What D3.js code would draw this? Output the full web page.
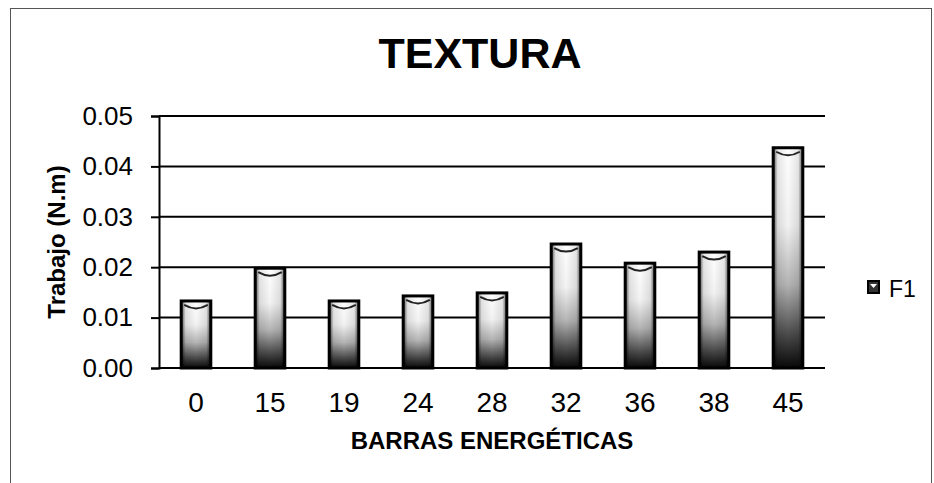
<!DOCTYPE html>
<html>
<head>
<meta charset="utf-8">
<script src="https://cdn.jsdelivr.net/npm/d3@7"></script>
<style>
  body { margin: 0; background: #fff; }
  text { font-family: "Liberation Sans", Arial, sans-serif; fill: #000; }
</style>
</head>
<body>
<div id="chart"></div>
<script>
// data
var categories = ["0", "15", "19", "24", "28", "32", "36", "38", "45"];
var f1Values = [0.0133, 0.0198, 0.0133, 0.0143, 0.0149, 0.0246, 0.0208, 0.0230, 0.0437];
var yTicks = [0, 0.01, 0.02, 0.03, 0.04, 0.05];
var seriesName = "F1";

var W = 934, H = 483;
var plot = {left: 159, right: 825, top: 116, bottom: 368};

var svg = d3.select("#chart")
    .append("svg")
    .attr("width", W)
    .attr("height", H);

// gradients for the cylinder look
var defs = svg.append("defs");
var vg = defs.append("linearGradient")
    .attr("id", "barV")
    .attr("x1", 0).attr("y1", 0).attr("x2", 0).attr("y2", 1);
vg.append("stop").attr("offset", "0%").attr("stop-color", "#ffffff");
vg.append("stop").attr("offset", "35%").attr("stop-color", "#f2f2f2");
vg.append("stop").attr("offset", "62%").attr("stop-color", "#b4b4b4");
vg.append("stop").attr("offset", "85%").attr("stop-color", "#4a4a4a");
vg.append("stop").attr("offset", "100%").attr("stop-color", "#080808");

var hg = defs.append("linearGradient")
    .attr("id", "barH")
    .attr("x1", 0).attr("y1", 0).attr("x2", 1).attr("y2", 0);
hg.append("stop").attr("offset", "0%").attr("stop-color", "#000").attr("stop-opacity", 0.7);
hg.append("stop").attr("offset", "15%").attr("stop-color", "#000").attr("stop-opacity", 0.1);
hg.append("stop").attr("offset", "50%").attr("stop-color", "#000").attr("stop-opacity", 0);
hg.append("stop").attr("offset", "85%").attr("stop-color", "#000").attr("stop-opacity", 0.1);
hg.append("stop").attr("offset", "100%").attr("stop-color", "#000").attr("stop-opacity", 0.7);

// outer frame
svg.append("rect")
    .attr("x", 10.5).attr("y", 8.5)
    .attr("width", 921).attr("height", 490)
    .attr("fill", "none")
    .attr("stroke", "#555")
    .attr("stroke-width", 1);

// scales
var x = d3.scaleBand()
    .domain(categories)
    .range([plot.left, plot.right])
    .paddingInner(0.6)
    .paddingOuter(0.3);

var y = d3.scaleLinear()
    .domain([0, 0.05])
    .range([plot.bottom, plot.top]);

// gridlines
svg.append("g")
    .selectAll("line")
    .data(yTicks.slice(1))
    .enter()
    .append("line")
    .attr("x1", plot.left).attr("x2", plot.right)
    .attr("y1", d => y(d)).attr("y2", d => y(d))
    .attr("stroke", "#000")
    .attr("stroke-width", 2);

// bars
var bars = svg.append("g")
    .selectAll("g")
    .data(f1Values)
    .enter()
    .append("g");

bars.append("rect")
    .attr("x", (d, i) => x(categories[i]))
    .attr("y", d => y(d))
    .attr("width", x.bandwidth())
    .attr("height", d => plot.bottom - y(d))
    .attr("fill", "url(#barV)");

bars.append("rect")
    .attr("x", (d, i) => x(categories[i]))
    .attr("y", d => y(d))
    .attr("width", x.bandwidth())
    .attr("height", d => plot.bottom - y(d))
    .attr("fill", "url(#barH)")
    .attr("stroke", "#000")
    .attr("stroke-width", 3);

// top cap of each cylinder
bars.append("path")
    .attr("d", function(d, i) {
        var x0 = x(categories[i]) + 3, x1 = x(categories[i]) + x.bandwidth() - 3;
        var t = y(d) + 4;
        return "M" + x0 + "," + t + " Q" + (x0 + x1) / 2 + "," + (t + 7) + " " + x1 + "," + t;
    })
    .attr("fill", "none")
    .attr("stroke", "#222")
    .attr("stroke-width", 2);

// axes
var yAxis = svg.append("g")
    .attr("transform", `translate(${plot.left},0)`)
    .call(d3.axisLeft(y).tickValues(yTicks).tickFormat(d3.format(".2f")).tickSize(8).tickPadding(18));
yAxis.selectAll("path, line").attr("stroke", "#000").attr("stroke-width", 2);
yAxis.selectAll("text")
    .style("font-size", "26px")
    .style("font-family", "'Liberation Sans', Arial, sans-serif")
    .attr("fill", "#000");

var xAxis = svg.append("g")
    .attr("transform", `translate(0,${plot.bottom})`)
    .call(d3.axisBottom(x).tickSize(0).tickPadding(24));
xAxis.select(".domain")
    .attr("d", `M${plot.left},0H${plot.right}`)
    .attr("stroke", "#000")
    .attr("stroke-width", 2);
xAxis.selectAll("text")
    .style("font-size", "28px")
    .style("font-family", "'Liberation Sans', Arial, sans-serif")
    .attr("fill", "#000");

// title and axis titles
svg.append("text")
    .attr("x", 480).attr("y", 68)
    .attr("text-anchor", "middle")
    .style("font-size", "43px")
    .style("font-weight", "bold")
    .text("TEXTURA");

svg.append("text")
    .attr("transform", "translate(65,242) rotate(-90)")
    .attr("text-anchor", "middle")
    .style("font-size", "24px")
    .style("font-weight", "bold")
    .text("Trabajo (N.m)");

svg.append("text")
    .attr("x", 492).attr("y", 449)
    .attr("text-anchor", "middle")
    .style("font-size", "24px")
    .style("font-weight", "bold")
    .text("BARRAS ENERGÉTICAS");

// legend
var legend = svg.append("g");
legend.append("rect")
    .attr("x", 868).attr("y", 281)
    .attr("width", 11).attr("height", 12)
    .attr("fill", "#333")
    .attr("stroke", "#000")
    .attr("stroke-width", 2);
legend.append("path")
    .attr("d", "M870,284 L877,284 L873.5,288 Z")
    .attr("fill", "#fff");
legend.append("text")
    .attr("x", 889).attr("y", 297)
    .style("font-size", "23px")
    .text(seriesName);
</script>
</body>
</html>
